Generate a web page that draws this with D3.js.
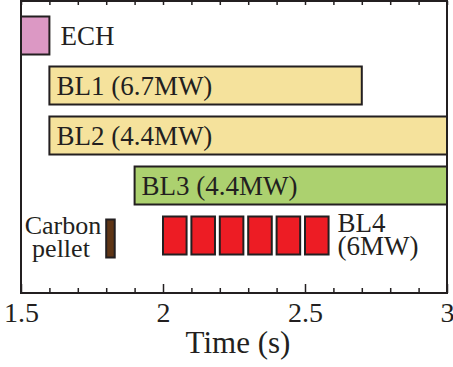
<!DOCTYPE html>
<html>
<head>
<meta charset="utf-8">
<script src="https://cdn.jsdelivr.net/npm/d3@7"></script>
<style>
  body { margin: 0; background: #fff; }
  svg text { font-family: "Liberation Serif", "Times New Roman", serif; fill: #231f20; }
</style>
</head>
<body>
<div id="chart"><svg width="453" height="367"></svg></div>
<script>
// heating / fuelling timeline (times in s)
const rows = ["ECH", "BL1", "BL2", "BL3", "BL4"];
const barStart = [1.5, 1.6, 1.6, 1.9];
const barEnd = [1.6, 2.7, 3.0, 3.0];
const barLabels = ["ECH", "BL1 (6.7MW)", "BL2 (4.4MW)", "BL3 (4.4MW)"];
const barColors = ["#dc98c4", "#f5e29c", "#f5e29c", "#acd16f"];
const bl4Starts = [2.0, 2.1, 2.2, 2.3, 2.4, 2.5];
const bl4Width = 0.083;
const pellet = [1.8, 1.83];
const xTicks = [1.5, 2, 2.5, 3];
const xMinorTicks = [1.6, 1.7, 1.8, 1.9, 2.1, 2.2, 2.3, 2.4, 2.6, 2.7, 2.8, 2.9];

const plotLeft = 21, plotRight = 447, plotTop = 1, plotBottom = 293;
const svg = d3.select("#chart").select("svg");

const x = d3.scaleLinear().domain([1.5, 3]).range([plotLeft, plotRight]);
const y = d3.scaleBand().domain(rows).range([10.5, 260.5])
  .paddingInner(0.24).paddingOuter(0.12);

const stroke = "#231f20";

// bars
const bars = rows.slice(0, 4).map((r, i) => ({
  row: r, start: barStart[i], end: barEnd[i], label: barLabels[i], color: barColors[i],
}));

svg.selectAll(".bar").data(bars).enter().append("rect")
  .attr("class", "bar")
  .attr("x", (d) => x(d.start))
  .attr("y", (d) => y(d.row))
  .attr("width", (d) => x(d.end) - x(d.start))
  .attr("height", y.bandwidth())
  .attr("fill", (d) => d.color)
  .attr("stroke", stroke)
  .attr("stroke-width", 2);

svg.selectAll(".bar-label").data(bars).enter().append("text")
  .attr("class", "bar-label")
  .attr("x", (d, i) => (i === 0 ? x(d.end) + 11 : x(d.start) + 7))
  .attr("y", (d) => y(d.row) + y.bandwidth() / 2 + 9)
  .attr("font-size", 27)
  .text((d) => d.label);

// BL4 pulses
svg.selectAll(".pulse").data(bl4Starts).enter().append("rect")
  .attr("class", "pulse")
  .attr("x", (d) => x(d))
  .attr("y", y("BL4"))
  .attr("width", x(1.5 + bl4Width) - x(1.5))
  .attr("height", y.bandwidth())
  .attr("fill", "#ed1c24")
  .attr("stroke", stroke)
  .attr("stroke-width", 2);

const bl4Right = x(d3.max(bl4Starts) + bl4Width) + 9;
svg.append("text").attr("x", bl4Right).attr("y", y("BL4") + 15)
  .attr("font-size", 27).text("BL4");
svg.append("text").attr("x", bl4Right).attr("y", y("BL4") + 38)
  .attr("font-size", 27).text("(6MW)");

// carbon pellet
svg.append("rect")
  .attr("x", x(pellet[0]))
  .attr("y", y("BL4") + 3)
  .attr("width", x(pellet[1]) - x(pellet[0]))
  .attr("height", y.bandwidth())
  .attr("fill", "#5e3516")
  .attr("stroke", stroke)
  .attr("stroke-width", 2);

svg.append("text").attr("x", 63).attr("y", y("BL4") + 17)
  .attr("text-anchor", "middle").attr("font-size", 26).text("Carbon");
svg.append("text").attr("x", 61).attr("y", y("BL4") + 40)
  .attr("text-anchor", "middle").attr("font-size", 26).text("pellet");

// axes
const minorAxis = d3.axisBottom(x).tickValues(xMinorTicks).tickSize(-5).tickFormat("");
const majorAxis = d3.axisBottom(x).tickValues(xTicks).tickSize(-9).tickPadding(9)
  .tickFormat(d3.format("~g"));
const topAxis = d3.axisTop(x).tickValues(xMinorTicks.concat(xTicks)).tickSize(-4).tickFormat("");

svg.append("g").attr("transform", `translate(0,${plotBottom})`).call(minorAxis);
const gx = svg.append("g").attr("transform", `translate(0,${plotBottom})`).call(majorAxis);
svg.append("g").attr("transform", `translate(0,${plotTop})`).call(topAxis);

svg.selectAll(".domain").remove();
svg.selectAll(".tick line").attr("stroke", stroke).attr("stroke-width", 1.5);
gx.selectAll("text")
  .attr("font-size", 28)
  .attr("font-family", "Liberation Serif, serif")
  .attr("fill", stroke);

// frame
svg.append("rect")
  .attr("x", plotLeft).attr("y", plotTop)
  .attr("width", plotRight - plotLeft).attr("height", plotBottom - plotTop)
  .attr("fill", "none").attr("stroke", stroke).attr("stroke-width", 2);

svg.append("text")
  .attr("x", (plotLeft + plotRight) / 2 + 4)
  .attr("y", 353)
  .attr("text-anchor", "middle")
  .attr("font-size", 31)
  .text("Time (s)");
</script>
</body>
</html>
